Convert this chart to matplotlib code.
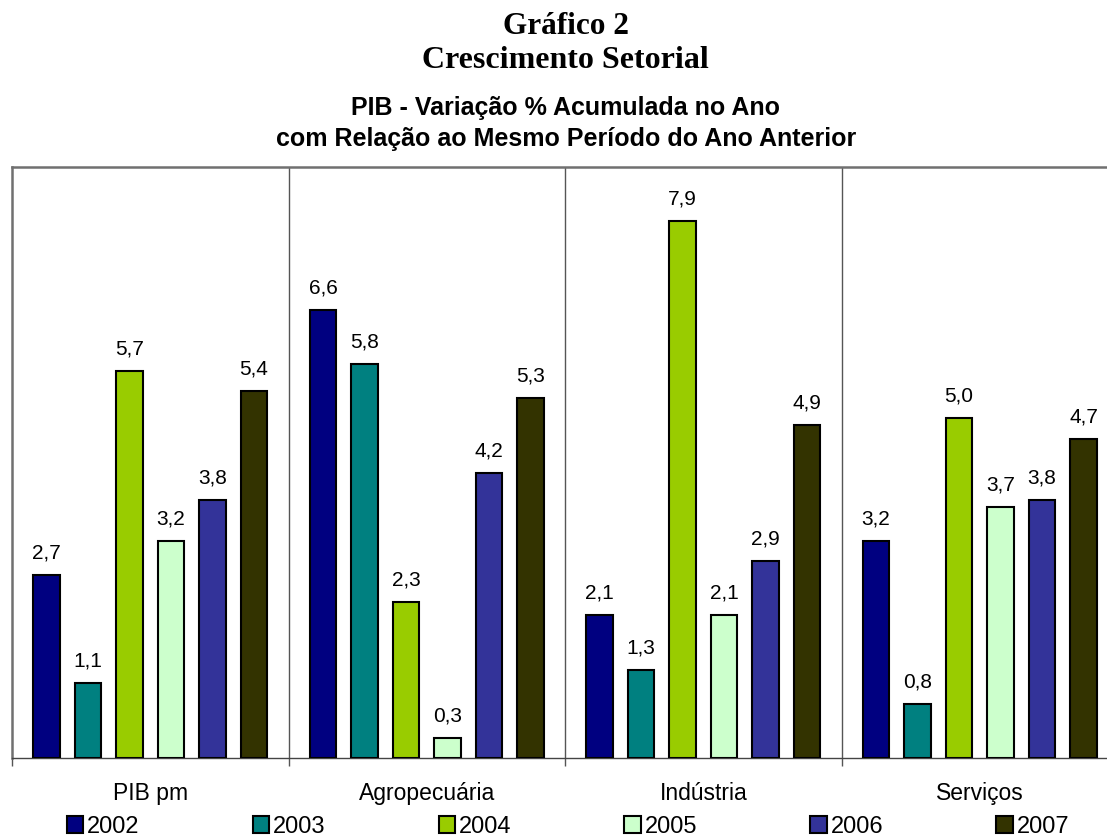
import matplotlib
matplotlib.use("Agg")
import matplotlib.pyplot as plt
import numpy as np

# data
sectors = ["PIB pm", "Agropecuária", "Indústria", "Serviços"]
years = ["2002", "2003", "2004", "2005", "2006", "2007"]
v2002 = [2.7, 6.6, 2.1, 3.2]
v2003 = [1.1, 5.8, 1.3, 0.8]
v2004 = [5.7, 2.3, 7.9, 5.0]
v2005 = [3.2, 0.3, 2.1, 3.7]
v2006 = [3.8, 4.2, 2.9, 3.8]
v2007 = [5.4, 5.3, 4.9, 4.7]
series = [v2002, v2003, v2004, v2005, v2006, v2007]
colors = ["#000080", "#008080", "#99CC00", "#CCFFCC", "#333399", "#333300"]

plt.rcParams["font.family"] = ["Liberation Sans", "DejaVu Sans"]

fig = plt.figure(figsize=(11.07, 8.38), dpi=100)
ax = fig.add_axes([12 / 1107, 80 / 838, 1106 / 1107, 591 / 838])

x = np.arange(len(sectors))
pitch = 0.15
width = 0.095
for i, (vals, col, yr) in enumerate(zip(series, colors, years)):
    pos = x + (i - 2.5) * pitch
    bars = ax.bar(pos, vals, width, color=col, edgecolor="black", linewidth=1.5,
                  label=yr, zorder=3)
    for b, v in zip(bars, vals):
        ax.annotate(f"{v:.1f}".replace(".", ","),
                    (b.get_x() + b.get_width() / 2, b.get_height()),
                    xytext=(0, 9), textcoords="offset points",
                    ha="center", va="bottom", fontsize=15)

ax.set_xlim(-0.5, len(sectors) - 0.5)
ax.set_ylim(0, 8.7)
ax.set_yticks([])

# group separators
for b in np.arange(0.5, len(sectors) - 0.5):
    ax.axvline(b, color="#555555", linewidth=1, zorder=1)

ax.set_xticks(x)
ax.set_xticklabels(sectors, fontsize=16.5)
ax.tick_params(axis="x", which="major", length=0, pad=17)
ax.set_xticks(np.arange(-0.5, len(sectors)), minor=True)
ax.tick_params(axis="x", which="minor", length=6, width=1, color="#555555")

for side in ["left", "top", "right"]:
    ax.spines[side].set_color("#707070")
    ax.spines[side].set_linewidth(1.8)
ax.spines["bottom"].set_color("#444444")
ax.spines["bottom"].set_linewidth(1)

fig.text(0.511, 1 - 27 / 838, "Gráfico 2", ha="center", va="center",
         fontsize=22.5, fontweight="bold", family="Liberation Serif")
fig.text(0.511, 1 - 61 / 838, "Crescimento Setorial", ha="center", va="center",
         fontsize=23, fontweight="bold", family="Liberation Serif")
fig.text(0.511, 1 - 108 / 838, "PIB - Variação % Acumulada no Ano", ha="center",
         va="center", fontsize=18, fontweight="bold")
fig.text(0.511, 1 - 139 / 838, "com Relação ao Mesmo Período do Ano Anterior",
         ha="center", va="center", fontsize=18, fontweight="bold")

handles, labels = ax.get_legend_handles_labels()
fig.legend(handles, labels, ncol=6, loc="center", bbox_to_anchor=(0.513, 11 / 838),
           frameon=False, fontsize=17, handlelength=0.7, handleheight=0.7,
           handletextpad=0.15, columnspacing=4.8, borderaxespad=0, borderpad=0)

fig.savefig("out.png", dpi=100)
